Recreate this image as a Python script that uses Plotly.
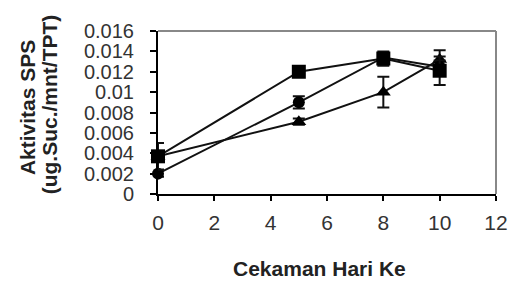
import plotly.graph_objects as go

days = [0, 5, 8, 10]

square_vals = [0.0037, 0.0120, 0.0133, 0.0121]
square_err = [0.0013, 0.0003, 0.0007, 0.0014]

circle_vals = [0.0020, 0.0090, 0.0134, 0.0125]
circle_err = [0.0003, 0.0006, 0.0004, 0.0006]

triangle_vals = [0.0037, 0.0071, 0.0100, 0.0132]
triangle_err = [0.0005, 0.0003, 0.0015, 0.0009]

y_ticks = [0, 0.002, 0.004, 0.006, 0.008, 0.010, 0.012, 0.014, 0.016]
y_tick_labels = ["0", "0.002", "0.004", "0.006", "0.008", "0.01", "0.012", "0.014", "0.016"]
x_ticks = [0, 2, 4, 6, 8, 10, 12]

fig = go.Figure()

def add_series(vals, err, symbol, size):
    fig.add_trace(go.Scatter(
        x=days, y=vals, mode="lines+markers",
        line=dict(color="#111111", width=2),
        marker=dict(symbol=symbol, size=size, color="#000000"),
        error_y=dict(type="data", array=err, visible=True, color="#111111", thickness=2, width=6),
        showlegend=False, cliponaxis=False,
    ))

add_series(triangle_vals, triangle_err, "triangle-up", 13)
add_series(circle_vals, circle_err, "circle", 12)
add_series(square_vals, square_err, "square", 14)

font_family = "Liberation Sans, Arial"
y_tick_font = dict(family=font_family, size=20, color="#333333")
x_tick_font = dict(family=font_family, size=21, color="#333333")
title_font = dict(family=font_family, size=21, color="#222222")

fig.update_layout(
    width=512, height=277,
    margin=dict(l=150, r=12, t=23, b=91),
    paper_bgcolor="white", plot_bgcolor="white",
    xaxis=dict(range=[0, 12], tickvals=x_ticks, showgrid=False, zeroline=False,
               showline=True, linecolor="#000000", linewidth=2,
               ticks="outside", ticklen=5, tickcolor="#000000", tickwidth=1.5,
               ticklabelstandoff=4, tickfont=x_tick_font),
    yaxis=dict(range=[0, 0.016], tickvals=y_ticks, ticktext=y_tick_labels,
               showgrid=False, zeroline=False,
               showline=True, linecolor="#000000", linewidth=2,
               ticks="outside", ticklen=6, tickcolor="#000000", tickwidth=1.5,
               ticklabelstandoff=12, tickfont=y_tick_font),
    shapes=[
        dict(type="line", xref="paper", yref="paper", x0=0, x1=1, y0=1, y1=1,
             line=dict(color="#888888", width=2)),
        dict(type="line", xref="paper", yref="paper", x0=1, x1=1, y0=0, y1=1,
             line=dict(color="#888888", width=2)),
    ],
    annotations=[
        dict(text="<b>Cekaman Hari Ke</b>", xref="paper", yref="paper",
             x=0.4786, y=-0.46, showarrow=False, xanchor="center", yanchor="middle",
             font=title_font),
        dict(text="<b>Aktivitas SPS</b>", xref="paper", yref="paper",
             x=-0.3857, y=0.531, showarrow=False, textangle=-90, xanchor="center", yanchor="middle",
             font=title_font),
        dict(text="<b>(ug.Suc./mnt/TPT)</b>", xref="paper", yref="paper",
             x=-0.32, y=0.549, showarrow=False, textangle=-90, xanchor="center", yanchor="middle",
             font=title_font),
    ],
)

fig.write_html("out.html")
